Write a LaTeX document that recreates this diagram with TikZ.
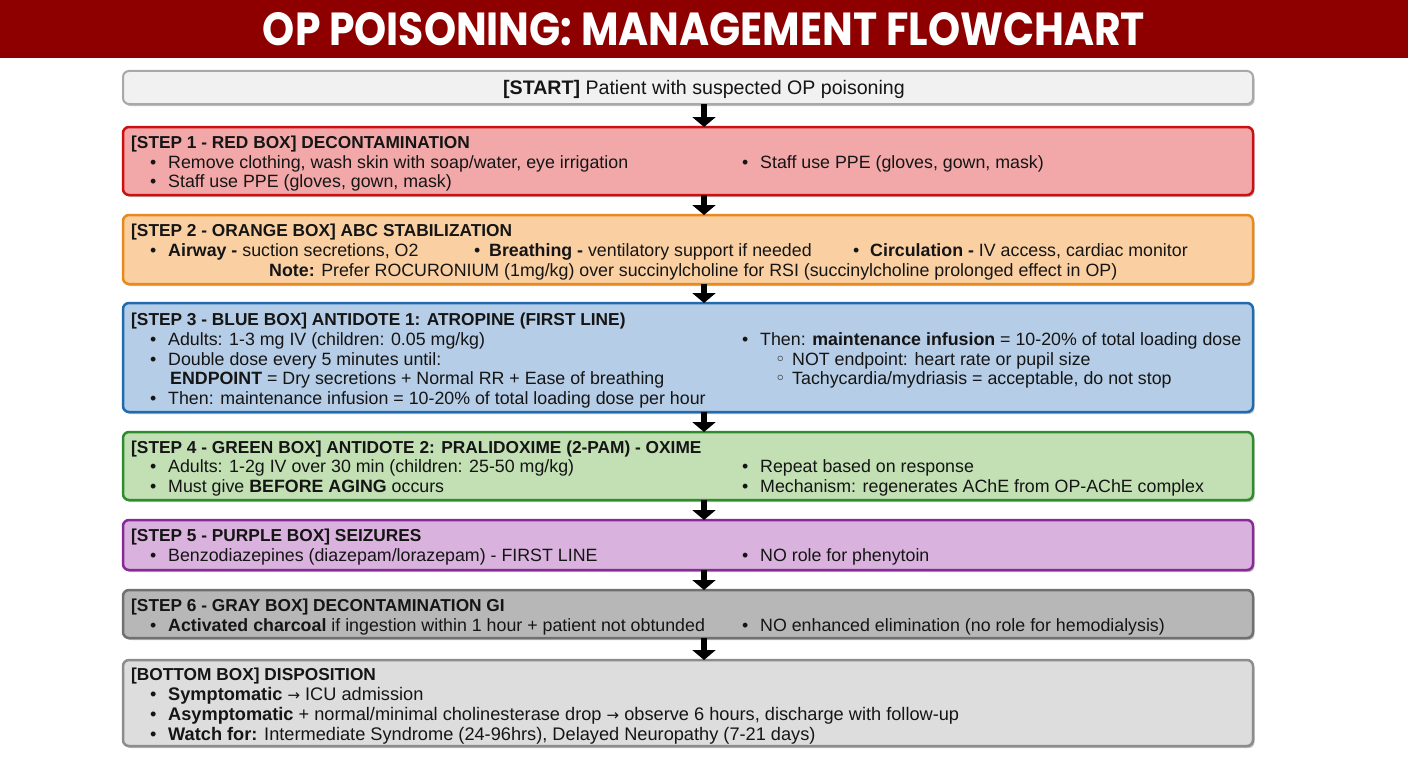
\documentclass[tikz,border=0pt]{standalone}
\usepackage{fontspec}
\setmainfont{Liberation Sans}
\newfontfamily\titlefont{Poppins}
\newfontfamily\symfont{DejaVu Sans}
\usetikzlibrary{arrows.meta,shadows}
\definecolor{banner}{HTML}{8E0000}
\definecolor{textc}{HTML}{151515}
\definecolor{startfill}{HTML}{F1F1F1}
\definecolor{startdraw}{HTML}{A8A8A8}
\definecolor{redfill}{HTML}{F2A8A8}
\definecolor{reddraw}{HTML}{CC1010}
\definecolor{orfill}{HTML}{FAD0A2}
\definecolor{ordraw}{HTML}{E8891E}
\definecolor{blfill}{HTML}{B5CDE6}
\definecolor{bldraw}{HTML}{1F6BB0}
\definecolor{grfill}{HTML}{C2E0B4}
\definecolor{grdraw}{HTML}{2E8B2E}
\definecolor{pufill}{HTML}{D9B3DD}
\definecolor{pudraw}{HTML}{862A96}
\definecolor{gyfill}{HTML}{B7B7B7}
\definecolor{gydraw}{HTML}{707070}
\definecolor{btfill}{HTML}{DDDDDD}
\definecolor{btdraw}{HTML}{8C8C8C}
\newcommand\bl{\makebox[18pt][l]{\textbullet}}
\newcommand\sbl{\makebox[17pt][l]{\symfont ◦}}
\newcommand\rarr{{\symfont\fontsize{15}{20}\selectfont →}}
\tikzset{
  box/.style={rounded corners=6pt, line width=2.5pt, minimum width=1130pt,
    inner sep=0pt, outer sep=0pt, anchor=north west,
    drop shadow={shadow xshift=1.5pt, shadow yshift=-2pt, opacity=0.25, fill=black}},
  txt/.style={inner sep=0pt, anchor=base west, text=textc,
    font=\fontsize{17.8}{20}\selectfont},
  btxt/.style={txt, font=\fontsize{18.2}{20}\selectfont},
  ttl/.style={inner sep=0pt, anchor=base west, text=textc,
    font=\fontsize{17.3}{20}\selectfont\bfseries},
  flow/.style={line width=6pt, -{Triangle[width=23pt,length=10pt]}, black}
}
\begin{document}
\begin{tikzpicture}[x=1pt,y=-1pt]
\useasboundingbox (0,0) rectangle (1408,768);
\fill[white] (0,0) rectangle (1408,768);
% banner
\fill[banner] (0,0) rectangle (1408,58);
\node[inner sep=0pt, text=white] (title) at (704,29)
  {\resizebox{882pt}{33pt}{\titlefont\bfseries OP POISONING: MANAGEMENT FLOWCHART}};

% start
\node[box, fill=startfill, draw=startdraw, line width=2pt, minimum height=33pt] (start) at (123,71) {};
\node[txt, anchor=base, font=\fontsize{19.6}{22}\selectfont] (starttxt) at (704,94) {\textbf{[START]} Patient with suspected OP poisoning};

% step 1
\node[box, fill=redfill, draw=reddraw, minimum height=68pt] (s1) at (123,127) {};
\node[ttl] (s1t) at (131,148) {[STEP 1 - RED BOX] DECONTAMINATION};
\node[txt] (s1a) at (150,168) {\bl Remove clothing, wash skin with soap/water, eye irrigation};
\node[txt] (s1b) at (150,187) {\bl Staff use PPE (gloves, gown, mask)};
\node[txt] (s1c) at (742,168) {\bl Staff use PPE (gloves, gown, mask)};

% step 2
\node[box, fill=orfill, draw=ordraw, minimum height=69pt] (s2) at (123,215) {};
\node[ttl] (s2t) at (131,236) {[STEP 2 - ORANGE BOX] ABC STABILIZATION};
\node[txt] (s2a) at (150,256) {\bl\textbf{Airway -} suction secretions, O2};
\node[txt] (s2b) at (474,256) {\makebox[15pt][l]{\textbullet}\textbf{Breathing -} ventilatory support if needed};
\node[txt] (s2c) at (853,256) {\makebox[17pt][l]{\textbullet}\textbf{Circulation -} IV access, cardiac monitor};
\node[txt] (s2d) at (269,276) {\textbf{Note:} Prefer ROCURONIUM (1mg/kg) over succinylcholine for RSI (succinylcholine prolonged effect in OP)};

% step 3
\node[box, fill=blfill, draw=bldraw, minimum height=109pt] (s3) at (123,303) {};
\node[ttl] (s3t) at (131,325) {[STEP 3 - BLUE BOX] ANTIDOTE 1: ATROPINE (FIRST LINE)};
\node[txt] (s3a) at (150,345) {\bl Adults: 1-3 mg IV (children: 0.05 mg/kg)};
\node[txt] (s3b) at (150,365) {\bl Double dose every 5 minutes until:};
\node[txt] (s3c) at (170,384) {\textbf{ENDPOINT} = Dry secretions + Normal RR + Ease of breathing};
\node[txt] (s3d) at (150,404) {\bl Then: maintenance infusion = 10-20\% of total loading dose per hour};
\node[txt] (s3e) at (742,345) {\bl Then: \textbf{maintenance infusion} = 10-20\% of total loading dose};
\node[txt] (s3f) at (775,365) {\sbl NOT endpoint: heart rate or pupil size};
\node[txt] (s3g) at (775,384) {\sbl Tachycardia/mydriasis = acceptable, do not stop};

% step 4
\node[box, fill=grfill, draw=grdraw, minimum height=68pt] (s4) at (123,432) {};
\node[ttl] (s4t) at (131,453) {[STEP 4 - GREEN BOX] ANTIDOTE 2: PRALIDOXIME (2-PAM) - OXIME};
\node[txt] (s4a) at (150,472) {\bl Adults: 1-2g IV over 30 min (children: 25-50 mg/kg)};
\node[txt] (s4b) at (150,492) {\bl Must give \textbf{BEFORE AGING} occurs};
\node[txt] (s4c) at (742,472) {\bl Repeat based on response};
\node[txt] (s4d) at (742,492) {\bl Mechanism: regenerates AChE from OP-AChE complex};

% step 5
\node[box, fill=pufill, draw=pudraw, minimum height=50pt] (s5) at (123,520) {};
\node[ttl] (s5t) at (131,541) {[STEP 5 - PURPLE BOX] SEIZURES};
\node[txt] (s5a) at (150,561) {\bl Benzodiazepines (diazepam/lorazepam) - FIRST LINE};
\node[txt] (s5b) at (742,561) {\bl NO role for phenytoin};

% step 6
\node[box, fill=gyfill, draw=gydraw, minimum height=48pt] (s6) at (123,590) {};
\node[ttl] (s6t) at (131,611) {[STEP 6 - GRAY BOX] DECONTAMINATION GI};
\node[txt] (s6a) at (150,631) {\bl\textbf{Activated charcoal} if ingestion within 1 hour + patient not obtunded};
\node[txt] (s6b) at (742,631) {\bl NO enhanced elimination (no role for hemodialysis)};

% bottom
\node[box, fill=btfill, draw=btdraw, minimum height=86pt] (s7) at (123,660) {};
\node[ttl] (s7t) at (131,680) {[BOTTOM BOX] DISPOSITION};
\node[btxt] (s7a) at (150,700) {\bl\textbf{Symptomatic} \rarr\ ICU admission};
\node[btxt] (s7b) at (150,720) {\bl\textbf{Asymptomatic} + normal/minimal cholinesterase drop \rarr\ observe 6 hours, discharge with follow-up};
\node[btxt] (s7c) at (150,740) {\bl\textbf{Watch for:} Intermediate Syndrome (24-96hrs), Delayed Neuropathy (7-21 days)};

% arrows
\draw[flow] ([xshift=16pt]start.south) -- ([xshift=16pt]s1.north);
\draw[flow] ([xshift=16pt]s1.south) -- ([xshift=16pt]s2.north);
\draw[flow] ([xshift=16pt]s2.south) -- ([xshift=16pt]s3.north);
\draw[flow] ([xshift=16pt]s3.south) -- ([xshift=16pt]s4.north);
\draw[flow] ([xshift=16pt]s4.south) -- ([xshift=16pt]s5.north);
\draw[flow] ([xshift=16pt]s5.south) -- ([xshift=16pt]s6.north);
\draw[flow] ([xshift=16pt]s6.south) -- ([xshift=16pt]s7.north);
\end{tikzpicture}
\end{document}
